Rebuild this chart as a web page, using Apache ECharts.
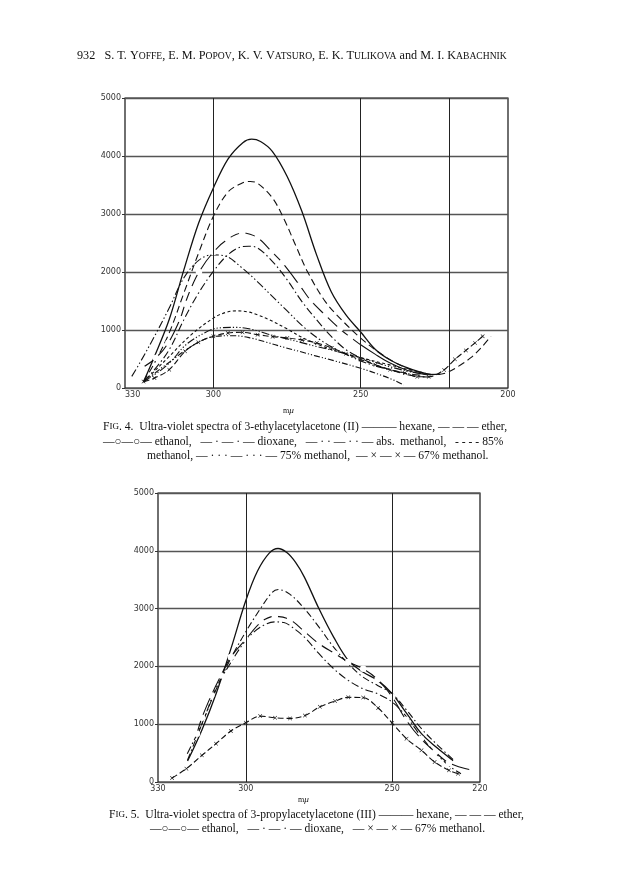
<!DOCTYPE html>
<html>
<head>
<meta charset="utf-8">
<script src="https://cdn.jsdelivr.net/npm/echarts@6/dist/echarts.min.js"></script>
<style>
  html, body { margin: 0; padding: 0; background: #fff; }
  #chart { width: 624px; height: 892px; }
</style>
</head>
<body>
<div id="chart"></div>
<script>
// ---------- Tick labels ----------
const fig4XLabels = [330, 300, 250, 200];
const fig5XLabels = [330, 300, 250, 220];
const fig4VGrid = [300, 250, 220];
const fig5VGrid = [300, 250];

// ---------- Fig. 4 : 3-ethylacetylacetone (II)  [wavelength mμ, ε] ----------
const fig4Hexane = [[323.7,110],[320,545],[315,1180],[310,2040],[305,2845],[300,3450],[295,3950],[290,4230],[287,4290],[284,4250],[280,4080],[275,3650],[270,3050],[265,2300],[260,1660],[255,1260],[250,965],[245,665],[240,483],[235,364],[230,278],[226,232],[223,238]];
const fig4Ether = [[323.7,110],[320,430],[315,950],[310,1640],[305,2330],[300,2960],[295,3380],[290,3540],[287.5,3560],[285,3530],[280,3280],[276,2910],[272,2450],[268,2000],[262,1490],[256,1150],[250,860],[244,620],[238,430],[232,300],[228,245],[224,232],[220.6,267],[216,400],[212.6,523],[209,700],[205.8,892]];
const fig4Ethanol = [[324.3,345],[319.5,517],[315.3,776],[311.3,1190],[309.6,1454],[307.7,1707],[304.9,2000],[300,2345],[295.1,2569],[290.2,2672],[285,2592],[280.2,2350],[276.6,2160],[270.7,1770],[266.9,1505],[262,1255],[257.1,1020],[253.5,877]];
const fig4EthanolTail = [[253.5,877],[250,745],[245,580],[240,430],[235,320],[230,250],[227,225]];
const fig4Dioxane = [[323.7,110],[320,316],[315,660],[310,1180],[305,1640],[300,2010],[295,2300],[290,2440],[288,2445],[285,2414],[280,2184],[275,1868],[270,1494],[265,1178],[260,890],[255,660],[250,517],[245,400],[240,316],[235,240],[230,195],[227,190]];
const fig4AbsMethanol = [[327.7,200],[325,430],[320,890],[315,1380],[310,1900],[305,2200],[300.5,2295],[296,2275],[290.6,2085],[285,1830],[279.3,1545],[275.3,1347],[269.6,1063],[263.9,835],[258.2,665],[250,466],[241,324],[233,239],[229,220]];
const fig4Methanol85 = [[323.7,110],[321,240],[315.4,523],[307.5,920],[300,1205],[296,1300],[292.3,1330],[288,1310],[285,1260],[281,1176],[275,1020],[269.6,864],[264,740],[258.2,636],[250,523],[241,409],[232,295],[228,260]];
const fig4Methanol75 = [[323.7,110],[318,300],[314,480],[309.7,729],[304.1,920],[298.5,1034],[292,1045],[286,1000],[281.6,931],[276,860],[270.4,787],[265,715],[259.1,644],[250,523],[241,380],[232,267],[227,240]];
const fig4Methanol67 = [[323.7,110],[320,172],[315,316],[309.6,632],[305.1,788],[300,891],[295.1,948],[290.1,960],[285,920],[279.9,885],[274.9,862],[269.9,828],[264.9,776],[259.8,690],[255,592],[250,489],[245,402],[240,316],[235,259],[230.8,193],[226.9,193],[221.7,312],[218,494],[214.3,648],[211.2,778],[208.6,892]];
const fig4LowCurve = [[323.7,100],[318,330],[314,480],[309.7,644],[305,790],[300.2,885],[292.9,902],[287.3,862],[282,790],[276,701],[270,620],[265,550],[259.1,471],[250,340],[243,220],[238,120],[235.4,50]];

// ---------- Fig. 5 : 3-propylacetylacetone (III) ----------
const fig5Hexane = [[319.9,363],[315,900],[310,1550],[305,2320],[300,3140],[296,3650],[292,3960],[289,4040],[286,3970],[283,3800],[280,3545],[275,2997],[270,2507],[265,2104],[260,1902],[255,1758],[250,1527],[245,1182],[240,836],[235,605],[229.2,370]];
const fig5Ether = [[319.9,380],[315,1000],[310,1620],[305,2150],[300,2600],[295,3000],[291,3280],[288.9,3330],[285,3250],[280,3000],[275,2680],[270,2334],[265,2046],[260,1816],[255,1671],[250,1527],[245,1239],[240,922],[235,663],[229.2,390]];
const fig5Ethanol = [[316.7,836],[315,1112],[311.8,1499],[308.5,1844],[305.1,2161],[300,2467],[294.8,2767],[290.1,2865],[284.9,2807],[280,2605],[275,2392],[269.5,2219],[265,2075],[259.9,1960],[255,1775],[250,1470],[245.3,1078],[240.2,749],[235.3,519],[230.6,329],[222.6,202]];
const fig5Dioxane = [[320,490],[315,1009],[310,1643],[305,2075],[300,2450],[295,2680],[290,2770],[287,2760],[285,2709],[280,2507],[275,2219],[270,1960],[265,1758],[260,1614],[255,1527],[250,1383],[245,1124],[240,778],[235,490],[230,259],[226.5,144]];
const fig5Methanol67 = [[325.2,69],[320.3,231],[315,461],[310.2,663],[305.1,882],[300,1026],[295.1,1140],[290,1110],[284.9,1100],[279.8,1150],[274.7,1300],[269.5,1400],[265,1465],[259.9,1460],[254.8,1280],[250,1020],[245.1,749],[240,548],[235.5,346],[230.6,202],[227.5,144]];

const INK = '#111';
const crossSymbol = 'path://M0,1L1,0L5,4L9,0L10,1L6,5L10,9L9,10L5,6L1,10L0,9L4,5Z';

function line(data, gi, dash, extra) {
  return Object.assign({
    type: 'line', xAxisIndex: gi, yAxisIndex: gi, data: data,
    smooth: 0.35, showSymbol: false, silent: true,
    lineStyle: { color: INK, width: 1.1, type: dash }
  }, extra || {});
}
function vgrid(values) {
  return {
    silent: true, symbol: ['none', 'none'], label: { show: false },
    lineStyle: { color: '#222', width: 1, type: 'solid' },
    data: values.map(v => ({ xAxis: v }))
  };
}
const circleOpts = { showSymbol: true, symbol: 'emptyCircle', symbolSize: 4.5,
  itemStyle: { color: '#fff', borderColor: INK, borderWidth: 1 } };
const crossOpts = { showSymbol: true, symbol: crossSymbol, symbolSize: 4,
  itemStyle: { color: INK } };

function xAxisDef(gi, min, labels, alignMax) {
  return {
    gridIndex: gi, type: 'value', min: min, max: 330, interval: 10, inverse: true,
    axisLine: { show: false }, axisTick: { show: false }, splitLine: { show: false },
    axisLabel: { margin: 3, fontSize: 8, fontFamily: 'DejaVu Sans', color: '#333',
      alignMaxLabel: alignMax,
      formatter: v => labels.indexOf(v) >= 0 ? String(v) : '' }
  };
}
function yAxisDef(gi) {
  return {
    gridIndex: gi, type: 'value', min: 0, max: 5000, interval: 1000,
    axisLine: { show: false },
    axisTick: { show: true, length: 3, lineStyle: { color: '#333' } },
    splitLine: { show: true, lineStyle: { color: '#555', width: 1.4 } },
    axisLabel: { margin: 4, fontSize: 8, fontFamily: 'DejaVu Sans', color: '#333',
      formatter: v => String(v) }
  };
}

const serif = 'Liberation Serif';
function txt(text, left, top, size, small) {
  return { text: text, left: left, top: top, padding: 0,
    textStyle: { fontFamily: serif, fontSize: size, fontWeight: 'normal', color: '#111',
      rich: { s: { fontSize: small || size * 0.78, fontFamily: serif, color: '#111' },
              i: { fontSize: size * 1.15, fontFamily: serif, fontStyle: 'italic', color: '#111' } } } };
}

const option = {
  animation: false,
  backgroundColor: '#fff',
  title: [
    txt('932   S. T. Y{s|OFFE}, E. M. P{s|OPOV}, K. V. V{s|ATSURO}, E. K. T{s|ULIKOVA} and M. I. K{s|ABACHNIK}', 77, 50, 12.2, 9.6),
    txt('m{i|μ}', 283, 406, 8),
    txt('F{s|IG}. 4.  Ultra-violet spectra of 3-ethylacetylacetone (II) ——— hexane, — — — ether,', 103, 421, 11.6),
    txt('—○—○— ethanol,   — · — · — dioxane,   — · · — · · — abs.  methanol,   - - - - 85%', 103, 436, 11.6),
    txt('methanol, — · · · — · · · — 75% methanol,  — × — × — 67% methanol.', 147, 450, 11.6),
    txt('m{i|μ}', 298, 795, 8),
    txt('F{s|IG}. 5.  Ultra-violet spectra of 3-propylacetylacetone (III) ——— hexane, — — — ether,', 109, 809, 11.6),
    txt('—○—○— ethanol,   — · — · — dioxane,   — × — × — 67% methanol.', 150, 823, 11.6)
  ],
  grid: [
    { left: 125, right: 116, top: 98, height: 290, show: true, borderColor: INK, borderWidth: 1.2, backgroundColor: 'transparent' },
    { left: 158, right: 144, top: 493, height: 289, show: true, borderColor: INK, borderWidth: 1.2, backgroundColor: 'transparent' }
  ],
  xAxis: [ xAxisDef(0, 200, fig4XLabels, 'left'), xAxisDef(1, 220, fig5XLabels) ],
  yAxis: [ yAxisDef(0), yAxisDef(1) ],
  series: [
    line(fig4Hexane, 0, 'solid', { markLine: vgrid(fig4VGrid), lineStyle: { color: INK, width: 1.3, type: 'solid' } }),
    line(fig4Ether, 0, [7, 4]),
    line(fig4Ethanol, 0, 'solid', circleOpts),
    line(fig4EthanolTail, 0, 'solid'),
    line(fig4Dioxane, 0, [8, 3, 1.5, 3]),
    line(fig4AbsMethanol, 0, [8, 2.5, 1.5, 2.5, 1.5, 2.5]),
    line(fig4Methanol85, 0, [3, 2.5]),
    line(fig4Methanol75, 0, [8, 2, 1.2, 2, 1.2, 2, 1.2, 2]),
    line(fig4Methanol67, 0, [6, 3], crossOpts),
    line(fig4LowCurve, 0, [6, 2, 1.2, 2, 1.2, 2]),

    line(fig5Hexane, 1, 'solid', { markLine: vgrid(fig5VGrid), lineStyle: { color: INK, width: 1.3, type: 'solid' } }),
    line(fig5Ether, 1, [7, 3, 1.5, 3]),
    line(fig5Ethanol, 1, 'solid', circleOpts),
    line(fig5Dioxane, 1, [8, 3, 1.5, 3]),
    line(fig5Methanol67, 1, [6, 3], crossOpts)
  ]
};

const chart = echarts.init(document.getElementById('chart'), null, { renderer: 'canvas' });
chart.setOption(option);
</script>
</body>
</html>
